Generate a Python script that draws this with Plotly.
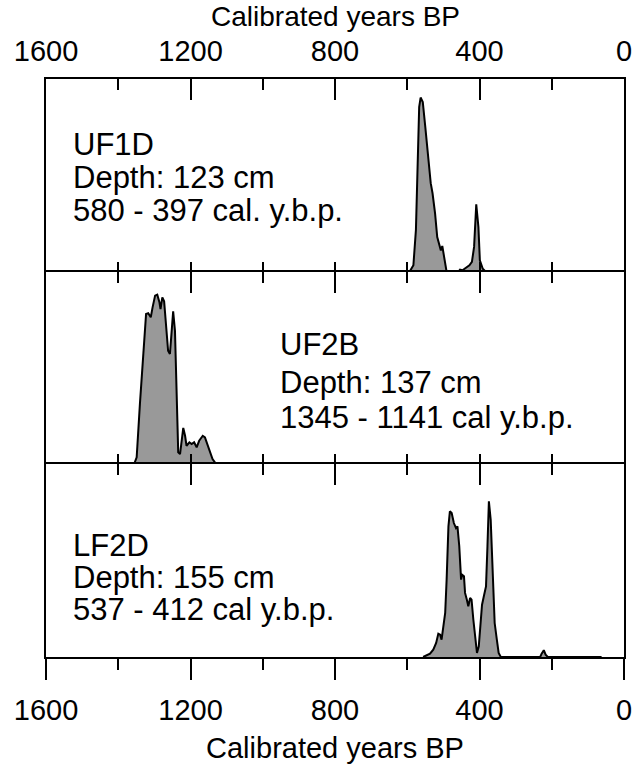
import plotly.graph_objects as go

# ---------------- data ----------------
years_uf1d = [594, 583, 576, 571, 567, 563, 557, 550, 542, 535, 530, 523, 517, 511, 507,
              503, 498, 491, 459, 454, 447, 437, 428, 421, 415, 409, 403, 399, 391, 382]
prob_uf1d = [0, .035, .218, .560, .855, .904, .881, .751, .580, .460, .408, .304, .181, .130, .112,
             .135, .087, 0, 0, .012, .009, .022, .035, .052, .130, .351, .233, .061, .017, 0]

years_uf2b = [1356, 1349, 1340, 1331, 1323, 1317, 1310, 1305, 1298, 1292, 1286, 1283, 1278,
              1273, 1268, 1262, 1257, 1252, 1248, 1243, 1238, 1234, 1229, 1224, 1220, 1215,
              1211, 1203, 1197, 1190, 1183, 1176, 1166, 1160, 1153, 1146, 1139, 1129]
prob_uf2b = [0, .035, .313, .573, .781, .785, .764, .816, .877, .882, .842, .807, .868,
             .847, .712, .590, .573, .694, .795, .694, .399, .061, .052, .121, .188, .147,
             .095, .113, .104, .113, .087, .121, .147, .139, .104, .061, .026, 0]

years_lf2d = [556, 537, 528, 520, 514, 509, 505, 500, 495, 491, 486, 482, 477, 471, 465, 461,
              456, 451, 448, 443, 440, 435, 431, 426, 422, 417, 412, 407, 402, 397, 393, 388,
              382, 378, 374, 369, 363, 358, 352, 347, 341, 232, 228, 222, 217, 211, 62]
prob_lf2d = [0, .017, .038, .073, .121, .116, .090, .159, .228, .401, .677, .755, .746, .694,
             .668, .677, .574, .401, .426, .418, .332, .297, .263, .306, .297, .193, .107, .021,
             .055, .159, .271, .315, .366, .574, .807, .711, .401, .176, .090, .021, 0, 0,
             .017, .035, .012, 0, 0]

sample_names = ["UF1D", "UF2B", "LF2D"]
depth_labels = ["Depth: 123 cm", "Depth: 137 cm", "Depth: 155 cm"]
age_ranges = ["580 - 397 cal. y.b.p.", "1345 - 1141 cal y.b.p.", "537 - 412 cal y.b.p."]

major_ticks = [1600, 1200, 800, 400, 0]
major_tick_labels = ["1600", "1200", "800", "400", "0"]
minor_ticks = [1400, 1000, 600, 200]
x_title = "Calibrated years BP"

# ---------------- figure ----------------
FONT = "Liberation Sans, Arial, sans-serif"
TICK_FS = 29
TITLE_FS = 29
TOP_TITLE_FS = 28
TEXT_FS = 31
fig = go.Figure()

series = [(years_uf1d, prob_uf1d), (years_uf2b, prob_uf2b), (years_lf2d, prob_lf2d)]
domains = [[0.6661, 1.0], [0.3339, 0.6661], [0.0, 0.3339]]

for i, (xs, ys) in enumerate(series):
    n = "" if i == 0 else str(i + 1)
    fig.add_trace(go.Scatter(
        x=xs, y=ys, mode="lines", xaxis="x" + n, yaxis="y" + n,
        line=dict(color="black", width=2), fill="tozeroy", fillcolor="#999999",
        showlegend=False, hoverinfo="skip"))

common_x = dict(range=[1600, 0], showgrid=False, zeroline=False, showline=True,
                linecolor="black", linewidth=2, tickcolor="black", tickwidth=2,
                tickmode="array", tickvals=major_ticks, ticktext=major_tick_labels,
                automargin=False,
                tickfont=dict(family=FONT, size=TICK_FS, color="black"))

lay = {}
# top edges of each panel (ticks pointing down into the panel)
for i in range(3):
    key = "xaxis" if i == 0 else "xaxis%d" % (i + 1)
    yid = "y" if i == 0 else "y%d" % (i + 1)
    d = dict(common_x, anchor=yid, side="top", ticks="inside", ticklen=21,
             minor=dict(tickmode="array", tickvals=minor_ticks, ticks="inside",
                        ticklen=11, tickwidth=2, tickcolor="black"),
             showticklabels=(i == 0))
    if i == 0:
        d["ticklabelstandoff"] = 4
    lay[key] = d

# bottom edges
for i in range(3):
    key = "xaxis%d" % (i + 4)
    yid = "y" if i == 0 else "y%d" % (i + 1)
    xid = "x" if i == 0 else "x%d" % (i + 1)
    if i < 2:
        d = dict(common_x, anchor=yid, overlaying=xid, side="bottom", ticks="inside",
                 ticklen=10, showline=False,
                 minor=dict(tickmode="array", tickvals=minor_ticks, ticks="inside",
                            ticklen=10, tickwidth=2, tickcolor="black"),
                 showticklabels=False)
    else:
        d = dict(common_x, anchor=yid, overlaying=xid, side="bottom", ticks="outside",
                 ticklen=21,
                 minor=dict(tickmode="array", tickvals=minor_ticks, ticks="outside",
                            ticklen=11, tickwidth=2, tickcolor="black"),
                 showticklabels=True, ticklabelstandoff=5,
                 title=dict(text=x_title, font=dict(family=FONT, size=TITLE_FS, color="black"),
                            standoff=13))
    lay[key] = d

for i in range(3):
    key = "yaxis" if i == 0 else "yaxis%d" % (i + 1)
    xid = "x" if i == 0 else "x%d" % (i + 1)
    lay[key] = dict(domain=domains[i], anchor=xid, range=[0, 1], showgrid=False,
                    zeroline=False, showline=True, mirror=True, linecolor="black",
                    linewidth=2, ticks="", showticklabels=False, automargin=False)

# empty traces so the bottom overlay axes are drawn
for i in range(3):
    yid = "y" if i == 0 else "y%d" % (i + 1)
    fig.add_trace(go.Scatter(x=[], y=[], xaxis="x%d" % (i + 4), yaxis=yid,
                             showlegend=False, hoverinfo="skip"))

# panel labels
text_x = [1530, 957, 1530]
text_y = [[0.663, 0.492, 0.319], [0.62, 0.425, 0.24], [0.58, 0.41, 0.244]]
annotations = []
for i in range(3):
    xid = "x" if i == 0 else "x%d" % (i + 1)
    yid = "y" if i == 0 else "y%d" % (i + 1)
    for j, t in enumerate([sample_names[i], depth_labels[i], age_ranges[i]]):
        annotations.append(dict(text=t, x=text_x[i], y=text_y[i][j], xref=xid,
                                yref=yid + " domain", xanchor="left", yanchor="middle",
                                showarrow=False,
                                font=dict(family=FONT, size=TEXT_FS, color="black")))

# top axis title
annotations.append(dict(text=x_title, x=0.5, y=1.1082, xref="paper", yref="paper",
                        xanchor="center", yanchor="middle", showarrow=False,
                        font=dict(family=FONT, size=TOP_TITLE_FS, color="black")))

fig.update_layout(
    width=634, height=770,
    margin=dict(l=46, r=10, t=79, b=113),
    paper_bgcolor="white", plot_bgcolor="white",
    font=dict(family=FONT, size=TICK_FS, color="black"),
    annotations=annotations,
    showlegend=False,
    **lay)

fig.write_html("out.html", config={"displayModeBar": False},
               post_script="document.body.style.margin='0';document.body.style.overflow='hidden';")
